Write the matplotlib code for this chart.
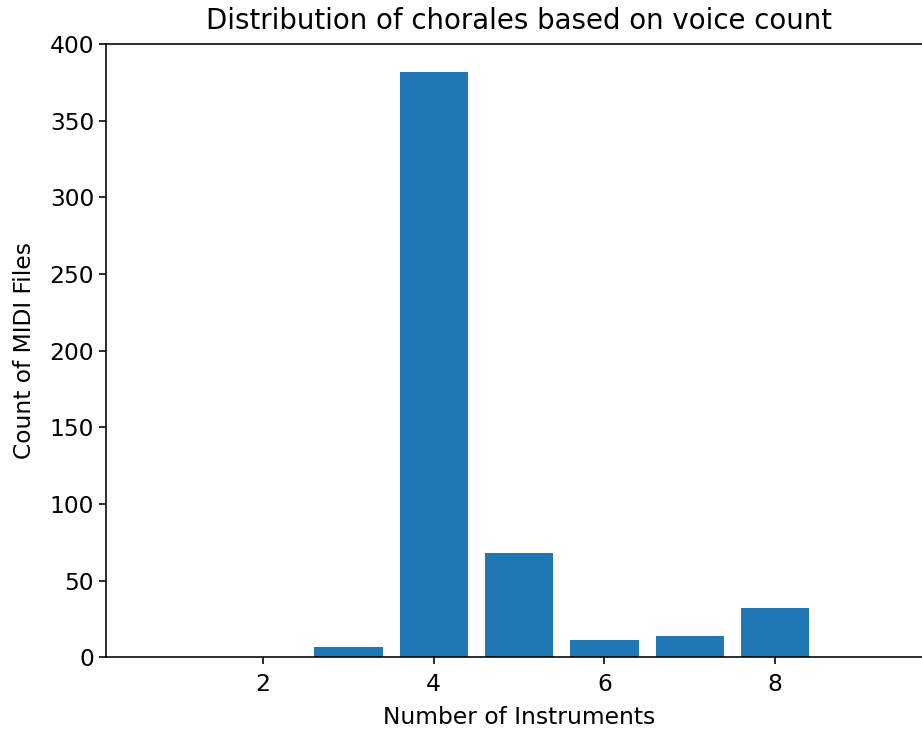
import matplotlib
matplotlib.use("Agg")
import matplotlib.pyplot as plt

# Number of voices (instruments) per chorale and how many MIDI files have it
voice_counts = [1, 2, 3, 4, 5, 6, 7, 8, 9]
file_counts = [0, 0, 7, 382, 68, 11, 14, 32, 0]

scale = 1.44
plt.rcParams.update({
    "font.family": "DejaVu Sans",
    "font.size": 16.8,
    "axes.linewidth": 0.8 * scale,
    "xtick.major.width": 0.8 * scale,
    "ytick.major.width": 0.8 * scale,
    "xtick.major.size": 3.5 * scale,
    "ytick.major.size": 3.5 * scale,
    "xtick.major.pad": 6.5,
})

fig = plt.figure(figsize=(9.22, 7.30), dpi=100)
ax = fig.add_axes([0.115, 0.0996, 0.896, 0.8401])

ax.bar(voice_counts, file_counts, width=0.8, color="#1f77b4")
ax.set_xlim(0.16, 9.84)
ax.set_ylim(0, 400)
ax.set_xticks([2, 4, 6, 8])
ax.set_yticks(range(0, 401, 50))

ax.set_title("Distribution of chorales based on voice count", fontsize=19.9, pad=11)
ax.set_xlabel("Number of Instruments", labelpad=7)
ax.set_ylabel("Count of MIDI Files", labelpad=10)

fig.savefig("out.png", dpi=100)
